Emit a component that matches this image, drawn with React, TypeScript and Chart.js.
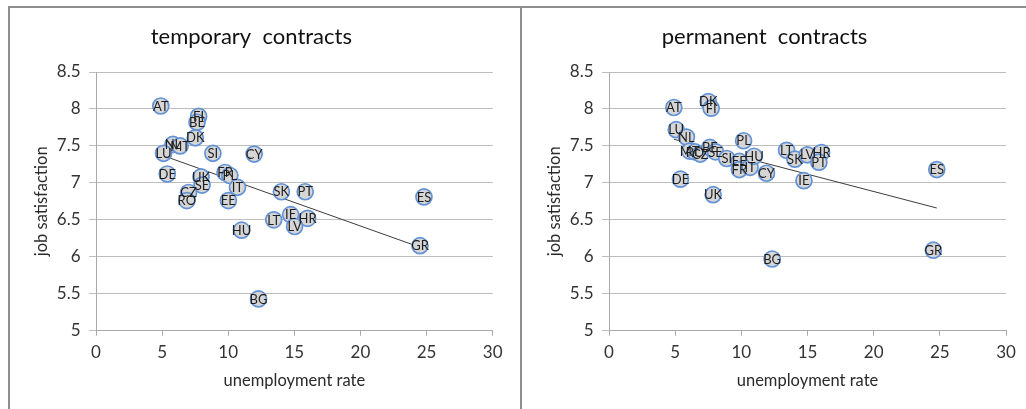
import React, { useEffect, useRef } from "react";
import { Chart, registerables } from "chart.js";

Chart.register(...registerables);

// ---- temporary contracts ----
const tempCountries = ["AT", "FI", "BE", "DK", "NL", "MT", "LU", "SI", "CY", "DE", "FR", "PL", "UK", "SE", "IT", "CZ", "RO", "EE", "SK", "PT", "ES", "GR", "LT", "IE", "HR", "LV", "HU", "BG"];
const tempUnemployment = [4.9, 7.76, 7.64, 7.51, 5.82, 6.36, 5.11, 8.84, 11.96, 5.39, 9.76, 10.12, 7.94, 8.02, 10.7, 7.0, 6.87, 10.01, 14.02, 15.82, 24.8, 24.5, 13.44, 14.72, 16.0, 15.02, 11.01, 12.29];
const tempSatisfaction = [8.04, 7.9, 7.82, 7.61, 7.52, 7.5, 7.4, 7.4, 7.39, 7.12, 7.14, 7.1, 7.08, 6.97, 6.94, 6.87, 6.76, 6.76, 6.88, 6.88, 6.81, 6.15, 6.5, 6.57, 6.52, 6.41, 6.36, 5.43];
const tempTrendX = [4.9, 24.8];
const tempTrendY = [7.38, 6.11];

// ---- permanent contracts ----
const permCountries = ["AT", "DK", "FI", "LU", "NL", "PL", "MT", "RO", "CZ", "BE", "SE", "SI", "EE", "FR", "IT", "HU", "CY", "LT", "SK", "LV", "HR", "PT", "IE", "ES", "GR", "DE", "UK", "BG"];
const permUnemployment = [4.9, 7.5, 7.72, 5.08, 5.85, 10.17, 6.1, 6.5, 6.9, 7.62, 8.05, 8.9, 9.85, 9.85, 10.66, 10.96, 11.9, 13.42, 14.05, 14.98, 16.06, 15.86, 14.73, 24.77, 24.51, 5.4, 7.87, 12.33];
const permSatisfaction = [8.02, 8.1, 8.01, 7.72, 7.62, 7.57, 7.43, 7.42, 7.39, 7.48, 7.42, 7.33, 7.29, 7.18, 7.21, 7.36, 7.13, 7.44, 7.32, 7.38, 7.41, 7.28, 7.03, 7.18, 6.09, 7.05, 6.84, 5.97];
const permTrendX = [4.9, 24.77];
const permTrendY = [7.59, 6.66];

// ---- axes ----
const xTicks = [0, 5, 10, 15, 20, 25, 30];
const yTicks = [5, 5.5, 6, 6.5, 7, 7.5, 8, 8.5];

const FONT = "Lato, 'Open Sans', sans-serif";

const pointLabelPlugin = {
  id: "pointLabels",
  afterDatasetsDraw(chart: any) {
    const ds = chart.data.datasets[0];
    const meta = chart.getDatasetMeta(0);
    const ctx = chart.ctx;
    ctx.save();
    ctx.font = `13px ${FONT}`;
    ctx.fillStyle = "#1e1e1e";
    ctx.textAlign = "center";
    ctx.textBaseline = "middle";
    meta.data.forEach((el: any, i: number) => {
      const lbl = ds.labelsText[i];
      ctx.fillText(lbl, el.x, el.y + 0.5);
    });
    ctx.restore();
  },
};

function ScatterPanel(props: {
  title: string;
  countries: string[];
  xs: number[];
  ys: number[];
  trendX: number[];
  trendY: number[];
  width: number;
  height: number;
  padRight: number;
}) {
  const ref = useRef<HTMLCanvasElement | null>(null);
  useEffect(() => {
    if (!ref.current) return;
    const pts = props.xs.map((x, i) => ({ x, y: props.ys[i] }));
    const trend = props.trendX.map((x, i) => ({ x, y: props.trendY[i] }));
    const chart = new Chart(ref.current, {
      type: "scatter",
      data: {
        datasets: [
          {
            label: "data",
            data: pts,
            labelsText: props.countries,
            order: 1,
            pointRadius: 8,
            pointHoverRadius: 8,
            pointBorderWidth: 1.7,
            pointBorderColor: "#6393d6",
            pointBackgroundColor: "#d6d6d6",
            showLine: false,
          } as any,
          {
            label: "trend",
            data: trend,
            order: 2,
            showLine: true,
            borderColor: "#3c3c3c",
            borderWidth: 1,
            pointRadius: 0,
            pointHoverRadius: 0,
            fill: false,
          } as any,
        ],
      },
      options: {
        animation: false,
        responsive: false,
        devicePixelRatio: 1,
        events: [],
        layout: { padding: { left: 0, right: props.padRight, top: 0, bottom: 12.3 } },
        plugins: {
          legend: { display: false },
          tooltip: { enabled: false },
          title: {
            display: true,
            text: props.title,
            color: "#111111",
            font: { family: FONT, size: 22, weight: "normal" as any },
            padding: { top: 15.8, bottom: 21.8 },
          },
        },
        scales: {
          x: {
            type: "linear",
            min: xTicks[0],
            max: xTicks[xTicks.length - 1],
            afterBuildTicks: (scale: any) => {
              scale.ticks = xTicks.map((v) => ({ value: v }));
            },
            afterFit: (scale: any) => {
              scale.height = 66;
            },
            grid: {
              drawOnChartArea: false,
              drawTicks: true,
              tickLength: 5,
              color: "#a9a9a9",
            },
            border: { display: true, color: "#a9a9a9" },
            ticks: {
              color: "#333333",
              font: { family: FONT, size: 17 },
              padding: 7,
              callback: (v: any) => String(v),
            },
            title: {
              display: true,
              text: "unemployment rate",
              color: "#2a2a2a",
              font: { family: FONT, size: 16.5 },
              padding: { top: 0, bottom: 6 },
            },
          },
          y: {
            type: "linear",
            min: yTicks[0],
            max: yTicks[yTicks.length - 1],
            afterBuildTicks: (scale: any) => {
              scale.ticks = yTicks.map((v) => ({ value: v }));
            },
            afterFit: (scale: any) => {
              scale.width = 86;
            },
            grid: {
              drawOnChartArea: true,
              drawTicks: true,
              tickLength: 7,
              color: "#bdbdbd",
            },
            border: { display: true, color: "#a9a9a9" },
            ticks: {
              color: "#333333",
              font: { family: FONT, size: 17 },
              padding: 8.5,
              callback: (v: any) => String(v),
            },
            title: {
              display: true,
              text: "job satisfaction",
              color: "#2a2a2a",
              font: { family: FONT, size: 16.5 },
              padding: { top: 22, bottom: 0 },
            },
          },
        },
      },
      plugins: [pointLabelPlugin],
    });
    return () => chart.destroy();
  }, []);
  return (
    <canvas
      ref={ref}
      width={props.width}
      height={props.height}
      style={{ width: props.width, height: props.height, display: "block" }}
    />
  );
}

export default function App() {
  return (
    <div
      style={{
        position: "absolute",
        left: 0,
        top: 0,
        width: 1026,
        height: 409,
        overflow: "hidden",
        background: "#ffffff",
      }}
    >
      <div
        style={{
          position: "absolute",
          left: 8,
          top: 6,
          width: 514,
          height: 500,
          boxSizing: "border-box",
          border: "2px solid #8e8e8e",
        }}
      />
      <div
        style={{
          position: "absolute",
          left: 520,
          top: 6,
          width: 600,
          height: 500,
          boxSizing: "border-box",
          borderTop: "2px solid #8e8e8e",
          borderLeft: "2px solid #8e8e8e",
        }}
      />
      <div style={{ position: "absolute", left: 10, top: 8 }}>
        <ScatterPanel
          title="temporary  contracts"
          countries={tempCountries}
          xs={tempUnemployment}
          ys={tempSatisfaction}
          trendX={tempTrendX}
          trendY={tempTrendY}
          width={510}
          height={401}
          padRight={27.3}
        />
      </div>
      <div style={{ position: "absolute", left: 523, top: 8 }}>
        <ScatterPanel
          title="permanent  contracts"
          countries={permCountries}
          xs={permUnemployment}
          ys={permSatisfaction}
          trendX={permTrendX}
          trendY={permTrendY}
          width={503}
          height={401}
          padRight={20}
        />
      </div>
    </div>
  );
}
